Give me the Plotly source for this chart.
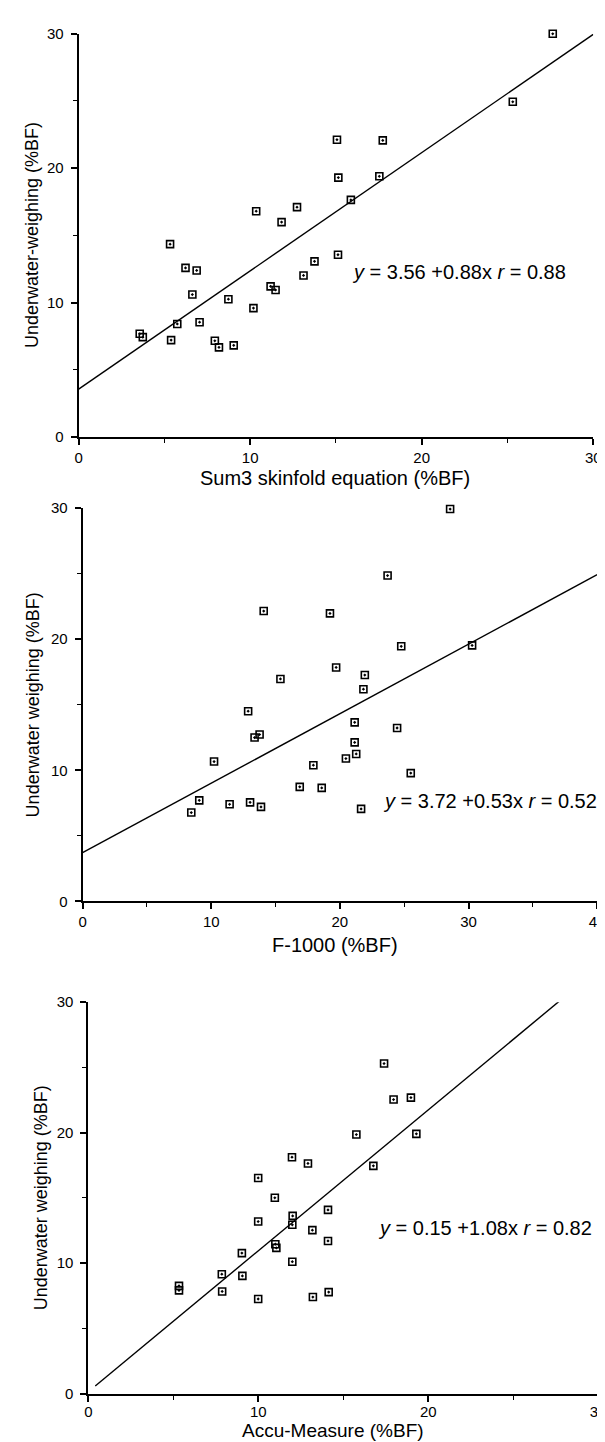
import plotly.graph_objects as go

# Panel 1: Sum3 skinfold equation vs underwater weighing
sum3_x = [27.64, 25.31, 15.06, 17.73, 15.14, 17.53, 15.87, 10.35, 12.73, 11.83,
          5.33, 15.12, 13.75, 6.23, 6.88, 13.11, 11.19, 11.48, 6.63, 8.73,
          10.19, 5.75, 7.05, 3.56, 3.74, 5.39, 7.94, 8.18, 9.04]
sum3_y = [30.0, 24.94, 22.12, 22.07, 19.30, 19.40, 17.64, 16.80, 17.10, 15.99,
          14.35, 13.56, 13.07, 12.58, 12.39, 12.02, 11.21, 10.94, 10.60, 10.25,
          9.59, 8.41, 8.54, 7.68, 7.43, 7.21, 7.16, 6.67, 6.82]
sum3_fit_x = [0, 30]
sum3_fit_y = [3.56 + 0.88 * v for v in sum3_fit_x]

# Panel 2: F-1000 vs underwater weighing
f1000_x = [28.57, 23.71, 14.08, 19.23, 24.77, 30.28, 19.71, 21.94, 21.83, 15.38,
           12.87, 21.15, 24.45, 13.37, 13.76, 21.15, 21.27, 20.47, 10.22, 17.94,
           25.51, 16.88, 18.59, 9.07, 11.43, 13.02, 13.87, 8.45, 21.65]
f1000_y = [29.93, 24.86, 22.15, 21.97, 19.46, 19.53, 17.85, 17.27, 16.19, 16.97,
           14.51, 13.66, 13.23, 12.50, 12.73, 12.13, 11.25, 10.90, 10.67, 10.39,
           9.79, 8.74, 8.66, 7.71, 7.41, 7.56, 7.21, 6.78, 7.06]
f1000_fit_x = [0, 40]
f1000_fit_y = [3.72 + 0.53 * v for v in f1000_fit_x]

# Panel 3: Accu-Measure vs underwater weighing
accu_x = [26.28, 17.40, 17.96, 18.98, 15.77, 19.30, 11.98, 12.92, 16.77, 9.99,
          10.97, 14.10, 12.02, 9.99, 12.00, 13.18, 14.10, 11.00, 11.06, 9.03,
          12.00, 7.85, 9.06, 5.33, 5.33, 7.87, 14.14, 9.99, 13.21]
accu_y = [30.43, 25.30, 22.54, 22.69, 19.86, 19.91, 18.12, 17.64, 17.46, 16.53,
          15.01, 14.08, 13.62, 13.19, 12.94, 12.53, 11.70, 11.45, 11.17, 10.77,
          10.11, 9.15, 9.02, 8.26, 7.91, 7.83, 7.78, 7.25, 7.40]
accu_fit_x = [0.4, 28.0]
accu_fit_y = [0.15 + 1.08 * v for v in accu_fit_x]

x_titles = ["Sum3 skinfold equation (%BF)", "F-1000 (%BF)", "Accu-Measure (%BF)"]
y_titles = ["Underwater-weighing (%BF)", "Underwater weighing (%BF)", "Underwater weighing (%BF)"]
equations = ["<i>y</i> = 3.56 +0.88x <i>r</i> = 0.88",
             "<i>y</i> = 3.72 +0.53x <i>r</i> = 0.52",
             "<i>y</i> = 0.15 +1.08x <i>r</i> = 0.82"]
x_ranges = [[0, 30], [0, 40], [0, 30]]
y_ticks = [0, 10, 20, 30]

W, H = 605, 1442
FONT = "Liberation Sans, Arial, sans-serif"

# pixel boxes of each plot area (left, right, top, bottom)
boxes = [(68, 593, 17, 425), (72, 597, 497, 895), (78, 598, 997, 1393)]
eq_pos = [(15.8, 12.3), (23.2, 7.7), (16.9, 12.7)]
# (center x, y, anchor) for x-axis titles
xtitle_pos = [(330, 466, "middle"), (330, 939, "middle"), (327, 1442, "bottom")]
xtick_standoff = [0, 0, -3]
ytitle_pos = [21, 21, 30]

data = [(sum3_x, sum3_y, sum3_fit_x, sum3_fit_y),
        (f1000_x, f1000_y, f1000_fit_x, f1000_fit_y),
        (accu_x, accu_y, accu_fit_x, accu_fit_y)]

fig = go.Figure()
layout = dict(width=W, height=H, margin=dict(l=0, r=0, t=0, b=0),
              paper_bgcolor="white", plot_bgcolor="white", showlegend=False,
              font=dict(family=FONT, color="black"))
annotations = []

for i, (xs, ys, fx, fy) in enumerate(data):
    n = "" if i == 0 else str(i + 1)
    xa, ya = "x" + n, "y" + n
    fig.add_trace(go.Scatter(x=fx, y=fy, mode="lines", xaxis=xa, yaxis=ya,
                             line=dict(color="black", width=1.4), cliponaxis=False,
                             hoverinfo="skip"))
    fig.add_trace(go.Scatter(x=xs, y=ys, mode="markers", xaxis=xa, yaxis=ya,
                             marker=dict(symbol="square-open-dot", size=7, color="black",
                                         line=dict(color="black", width=1.6)),
                             cliponaxis=False))
    l, r, t, b = boxes[i]
    axis_common = dict(showline=True, linecolor="black", linewidth=2, showgrid=False,
                       zeroline=False, ticks="outside", ticklen=6, tickwidth=1.5,
                       tickcolor="black", tickfont=dict(family=FONT, size=15, color="black"),
                       minor=dict(dtick=5, ticks="outside", ticklen=4, tickcolor="black",
                                  tickwidth=1, showgrid=False))
    layout["xaxis" + n] = dict(axis_common, domain=[l / W, r / W], range=x_ranges[i],
                               anchor=ya, tickmode="linear", tick0=0, dtick=10,
                               ticklabelstandoff=xtick_standoff[i])
    layout["yaxis" + n] = dict(axis_common, domain=[1 - b / H, 1 - t / H], range=[0, 30],
                               anchor=xa, tickvals=y_ticks, ticklabelstandoff=4)
    ex, ey = eq_pos[i]
    annotations.append(dict(x=ex, y=ey, xref=xa, yref=ya, text=equations[i],
                            showarrow=False, xanchor="left", yanchor="middle",
                            font=dict(family=FONT, size=20, color="black")))
    tx, ty, tanc = xtitle_pos[i]
    annotations.append(dict(x=tx / W, y=1 - ty / H, xref="paper", yref="paper",
                            text=x_titles[i], showarrow=False, xanchor="center",
                            yanchor=tanc, borderpad=0,
                            font=dict(family=FONT, size=20 if i < 2 else 19, color="black")))
    annotations.append(dict(x=ytitle_pos[i] / W, y=1 - (t + b) / 2 / H, xref="paper",
                            yref="paper", text=y_titles[i], textangle=-90, showarrow=False,
                            xanchor="center", yanchor="middle",
                            font=dict(family=FONT, size=18, color="black")))

layout["annotations"] = annotations
fig.update_layout(**layout)
fig.write_html("out.html")
